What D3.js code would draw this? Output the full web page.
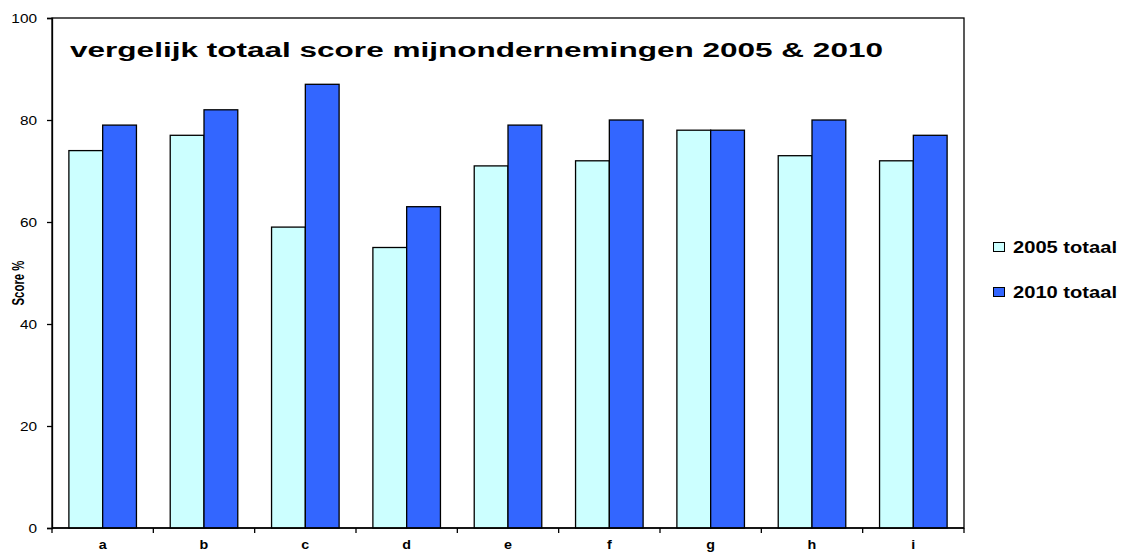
<!DOCTYPE html>
<html><head><meta charset="utf-8">
<script src="https://cdn.jsdelivr.net/npm/d3@7"></script>
<style>body{margin:0;background:#fff}svg{display:block}text{font-family:"Liberation Sans",Arial,sans-serif}</style>
</head><body>
<svg id="c" width="1125" height="552"></svg>
<script>
const categories = ["a","b","c","d","e","f","g","h","i"];
const values2005 = [74,77,59,55,71,72,78,73,72];
const values2010 = [79,82,87,63,79,80,78,80,77];
const seriesNames = ["2005 totaal","2010 totaal"];
const seriesColors = ["#CCFFFF","#3366FF"];
const yTicks = [0,20,40,60,80,100];

function stretch(sel, k){
  sel.each(function(){
    const w = this.getComputedTextLength();
    d3.select(this).attr("textLength", w*k).attr("lengthAdjust","spacingAndGlyphs");
  });
}

const svg = d3.select("#c");
const L = 52, R = 964, T = 18, B = 528;
const x = d3.scaleBand().domain(categories).range([L,R]).paddingInner(1/3).paddingOuter(1/6);
const xs = d3.scaleBand().domain([0,1]).range([0, x.bandwidth()]);
const y = d3.scaleLinear().domain([0,100]).range([B,T]);

svg.append("rect").attr("x",L).attr("y",T).attr("width",R-L).attr("height",B-T)
  .attr("fill","none").attr("stroke","#000").attr("stroke-width",1.3);

const series = [values2005, values2010];
series.forEach((vals,si)=>{
  svg.append("g").selectAll("rect").data(categories).join("rect")
    .attr("x",(d)=>x(d)+xs(si))
    .attr("y",(d,i)=>y(vals[i]))
    .attr("width",xs.bandwidth())
    .attr("height",(d,i)=>B-y(vals[i]))
    .attr("fill",seriesColors[si]).attr("stroke","#000").attr("stroke-width",1.3);
});

const yAxis = svg.append("g").attr("transform",`translate(${L},0)`)
  .call(d3.axisLeft(y).tickValues(yTicks).tickSize(5).tickPadding(10));
yAxis.select(".domain").attr("stroke","#000").attr("stroke-width",1.3);
yAxis.selectAll(".tick line").attr("stroke","#000").attr("stroke-width",1.3);
yAxis.selectAll("text").attr("font-size",12.5).attr("fill","#000").attr("font-family","Liberation Sans, Arial, sans-serif");
stretch(yAxis.selectAll("text"), 1.23);

// x ticks at category boundaries
const step = x.step();
const bounds = d3.range(categories.length+1).map(i=>L+i*step);
svg.append("g").selectAll("line").data(bounds).join("line")
  .attr("x1",d=>d).attr("x2",d=>d).attr("y1",B).attr("y2",B+5).attr("stroke","#000").attr("stroke-width",1.3);
svg.append("line").attr("x1",L).attr("x2",R).attr("y1",B).attr("y2",B).attr("stroke","#000").attr("stroke-width",1.3);
const xl = svg.append("g").selectAll("text").data(categories).join("text")
  .attr("x",d=>x(d)+x.bandwidth()/2).attr("y",548.5).attr("text-anchor","middle")
  .attr("font-size",13).attr("font-weight","bold").text(d=>d);
stretch(xl, 1.1);

svg.append("text").attr("transform","translate(24,283) rotate(-90)")
  .attr("text-anchor","middle").attr("font-size",17).attr("font-weight","bold")
  .attr("textLength",45).attr("lengthAdjust","spacingAndGlyphs").text("Score %");

svg.append("text").attr("x",70).attr("y",57).attr("font-size",20).attr("font-weight","bold")
  .attr("textLength",813).attr("lengthAdjust","spacingAndGlyphs")
  .text("vergelijk totaal score mijnondernemingen 2005 & 2010");

seriesNames.forEach((n,i)=>{
  const yy = 253 + i*45;
  svg.append("rect").attr("x",993.5).attr("y",yy-10.5).attr("width",11).attr("height",9)
    .attr("fill",seriesColors[i]).attr("stroke","#000").attr("stroke-width",1);
  svg.append("text").attr("x",1013).attr("y",yy).attr("font-size",16.5).attr("font-weight","bold")
    .attr("textLength",104).attr("lengthAdjust","spacingAndGlyphs").text(n);
});
</script>
</body></html>
